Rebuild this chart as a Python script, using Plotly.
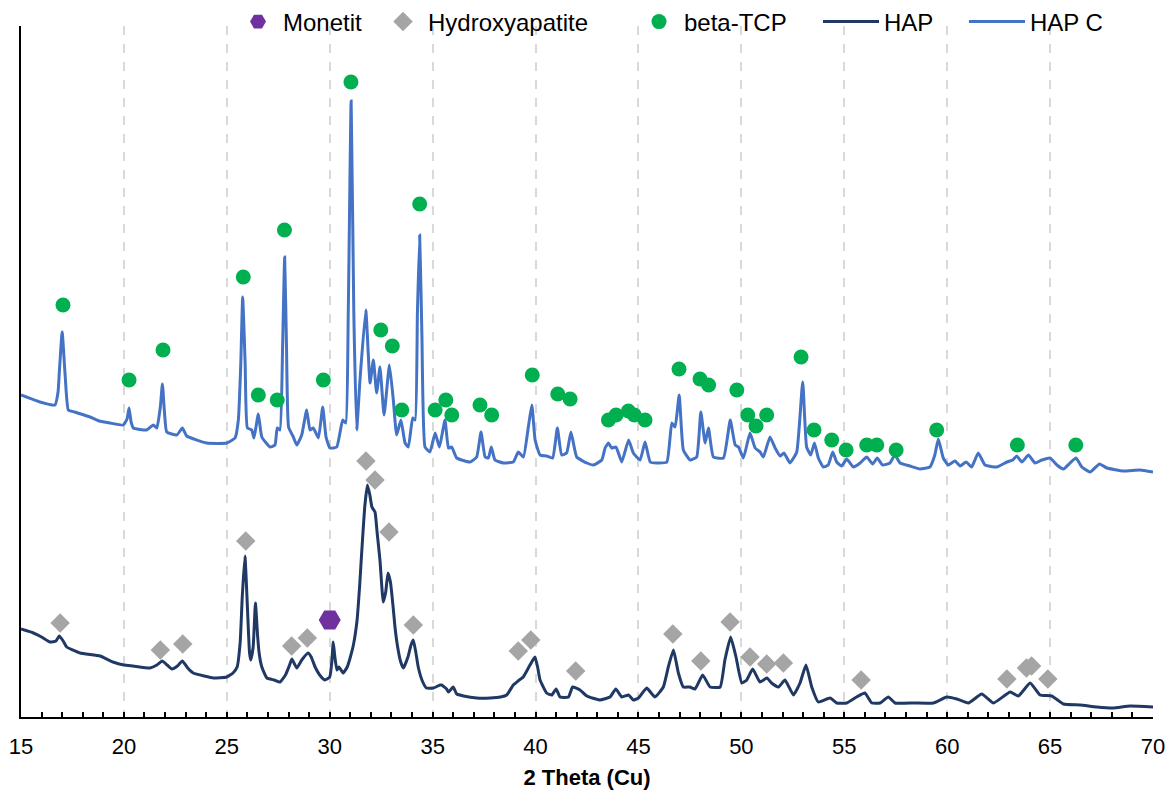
import plotly.graph_objects as go

# ---------------- data ----------------
hap_2theta = [15.0, 15.6, 16.0, 16.41, 16.7, 16.86, 17.05, 17.22, 17.87, 18.84, 19.47, 20.0, 20.45,
              21.27, 21.6, 21.86, 22.1, 22.33, 22.6, 22.84, 23.1, 23.37, 23.9, 24.35, 25.0, 25.3,
              25.5, 25.65, 25.75, 25.88, 26.0, 26.1, 26.16, 26.28, 26.39, 26.5, 26.57, 26.7, 26.95,
              27.3, 27.58, 27.85, 28.05, 28.16, 28.4, 28.64, 28.95, 29.1, 29.29, 29.55, 29.77, 30.0,
              30.1, 30.17, 30.25, 30.35, 30.45, 30.65, 30.85, 30.99, 31.15, 31.33, 31.45, 31.57,
              31.7, 31.83, 31.95, 32.05, 32.2, 32.3, 32.44, 32.6, 32.72, 32.83, 32.95, 33.08, 33.17,
              33.3, 33.45, 33.58, 33.8, 33.95, 34.06, 34.18, 34.3, 34.5, 34.7, 35.04, 35.36, 35.44,
              35.68, 35.77, 36.0, 36.17, 36.5, 37.14, 37.8, 38.3, 38.6, 38.92, 39.15, 39.4, 39.73,
              39.97, 40.1, 40.22, 40.54, 40.79, 41.0, 41.19, 41.6, 41.8, 42.16, 42.49, 43.13, 43.62,
              43.9, 44.19, 44.52, 44.75, 45.0, 45.4, 45.8, 46.21, 46.45, 46.7, 46.94, 47.18, 47.5,
              47.75, 48.12, 48.48, 48.97, 49.2, 49.48, 49.74, 50.02, 50.26, 50.55, 50.9, 51.24,
              51.47, 51.8, 52.12, 52.53, 52.85, 53.14, 53.42, 53.74, 54.31, 54.63, 55.12, 55.6,
              56.0, 56.34, 56.74, 57.14, 57.47, 58.36, 59.33, 59.98, 60.47, 61.03, 61.68, 62.25,
              63.06, 63.46, 64.03, 64.51, 65.08, 65.65, 66.46, 67.27, 68.06, 68.89, 70.0]
hap_intensity = [88, 84, 80, 75, 76, 81, 76, 70, 64, 61, 55, 52, 51,
                 49, 52, 56, 52, 48, 51, 56, 49, 44, 41, 39, 40, 44,
                 50, 75, 120, 161, 110, 65, 57, 70, 114, 80, 64, 50, 39,
                 37, 35, 42, 52, 58, 49, 57, 64, 60, 50, 41, 37, 40,
                 55, 75, 60, 47, 50, 44, 50, 59, 72, 97, 130, 170,
                 210, 232, 222, 210, 205, 185, 157, 115, 125, 144, 135, 110, 90,
                 70, 55, 49, 60, 72, 77, 65, 50, 36, 29, 29, 32, 32,
                 28, 25, 30, 23, 21, 19, 19, 20, 22, 32, 36, 40, 52,
                 60, 50, 37, 24, 22, 28, 20, 20, 30, 27, 21, 17, 20,
                 28, 20, 22, 17, 19, 29, 20, 30, 50, 67, 44, 30, 30,
                 28, 42, 30, 30, 57, 80, 60, 34, 37, 48, 35, 39,
                 34, 30, 37, 22, 34, 52, 30, 15, 19, 14, 14, 20,
                 24, 14, 14, 20, 14, 14, 14, 20, 18, 14, 23, 14,
                 25, 21, 34, 22, 21, 13, 12, 10, 9, 11, 10]

hapc_2theta = [15.0, 15.92, 16.65, 16.8, 16.86, 17.0, 17.15, 17.3, 17.6, 18.35, 18.8, 19.32, 19.97,
               20.15, 20.25, 20.35, 20.46, 21.1, 21.43, 21.6, 21.77, 21.87, 21.97, 22.08, 22.57,
               22.84, 23.05, 24.02, 25.0, 25.4, 25.56, 25.68, 25.77, 25.89, 26.0, 26.21, 26.32,
               26.53, 26.7, 27.1, 27.34, 27.45, 27.58, 27.71, 27.81, 27.9, 28.0, 28.23, 28.4,
               28.64, 28.88, 29.04, 29.2, 29.45, 29.66, 29.82, 30.01, 30.34, 30.63, 30.78, 30.9,
               31.04, 31.17, 31.31, 31.47, 31.75, 31.96, 32.12, 32.28, 32.44, 32.64, 32.9, 33.09,
               33.25, 33.46, 33.66, 33.82, 34.03, 34.15, 34.26, 34.37, 34.48, 34.63, 34.87, 35.12,
               35.33, 35.6, 35.77, 35.93, 36.17, 36.82, 37.14, 37.35, 37.55, 37.71, 37.85, 38.03,
               38.44, 38.92, 39.16, 39.41, 39.65, 39.82, 39.98, 40.22, 40.54, 40.83, 41.06, 41.27,
               41.51, 41.72, 42.0, 42.49, 42.81, 43.22, 43.38, 43.54, 43.7, 43.91, 44.19, 44.52,
               44.75, 45.08, 45.32, 45.57, 45.89, 46.38, 46.62, 46.78, 46.98, 47.18, 47.51, 47.83,
               48.03, 48.24, 48.4, 48.64, 49.13, 49.46, 49.7, 49.86, 50.1, 50.42, 50.67, 50.91,
               51.07, 51.39, 51.64, 51.88, 52.07, 52.36, 52.69, 52.98, 53.17, 53.37, 53.55, 53.74,
               53.98, 54.22, 54.44, 54.63, 54.87, 55.12, 55.44, 55.77, 56.09, 56.38, 56.6, 56.86,
               57.22, 57.46, 57.71, 58.19, 58.68, 59.16, 59.4, 59.57, 59.81, 60.05, 60.38, 60.63,
               60.92, 61.19, 61.51, 61.84, 62.41, 62.9, 63.19, 63.38, 63.63, 63.95, 64.27, 64.6,
               65.0, 65.33, 65.65, 65.97, 66.26, 66.54, 66.95, 67.4, 67.76, 68.57, 69.37, 70.0]
hapc_intensity = [322, 315, 312, 325, 344, 385, 340, 307, 305, 300, 296, 294, 292,
                  298, 309, 295, 289, 287, 292, 289, 310, 333, 305, 285, 282,
                  289, 281, 274, 274, 279, 297, 354, 420, 354, 289, 287, 279,
                  303, 280, 270, 272, 289, 287, 370, 460, 370, 290, 280, 272,
                  282, 307, 287, 289, 279, 310, 280, 269, 270, 297, 294, 404,
                  616, 404, 287, 337, 407, 334, 357, 324, 350, 302, 352, 317,
                  282, 297, 274, 270, 299, 297, 404, 482, 380, 270, 265, 284,
                  270, 297, 269, 270, 259, 255, 260, 285, 260, 259, 270, 257,
                  254, 255, 265, 260, 290, 312, 277, 262, 261, 259, 289, 262,
                  264, 285, 260, 254, 252, 257, 269, 274, 269, 270, 255, 277,
                  264, 257, 275, 255, 254, 255, 294, 290, 322, 267, 257, 260,
                  305, 274, 289, 260, 259, 297, 272, 270, 259, 284, 269, 265,
                  260, 280, 269, 261, 264, 254, 265, 335, 270, 262, 274, 259,
                  250, 252, 265, 255, 251, 258, 250, 254, 260, 253, 259, 252,
                  254, 262, 254, 251, 248, 250, 262, 278, 259, 252, 256, 251,
                  255, 250, 264, 252, 250, 255, 257, 261, 255, 262, 254, 257,
                  259, 252, 248, 254, 259, 250, 245, 253, 249, 246, 247, 245]

monetit_x = [30.0]
monetit_y = [97]

hydroxy_x = [16.9, 21.77, 22.86, 25.92, 28.15, 28.91, 31.76, 32.2, 32.88, 34.06, 39.16, 39.77,
             41.95, 46.67, 48.03, 49.45, 50.42, 51.23, 52.04, 55.82, 62.9, 63.85, 64.1, 64.89]
hydroxy_y = [94, 67, 73, 176, 71, 79, 256, 237, 185, 92, 66, 77,
             46, 83, 56, 95, 60, 53, 54, 37, 38, 49, 51, 38]

tcp_x = [17.04, 20.25, 21.9, 25.8, 26.53, 27.45, 27.8, 29.69, 31.03, 32.48, 33.04, 33.5, 34.37,
         35.12, 35.64, 35.93, 37.3, 37.87, 39.84, 41.08, 41.68, 43.54, 43.91, 44.51, 44.8, 45.32,
         46.97, 47.99, 48.41, 49.78, 50.31, 50.71, 51.23, 52.9, 53.53, 54.39, 55.09, 56.09, 56.58,
         57.52, 59.49, 63.41, 66.25]
tcp_y = [412, 337, 367, 440, 322, 317, 487, 337, 635, 387, 371, 307, 513,
         307, 317, 302, 312, 302, 342, 323, 318, 297, 302, 306, 302, 297,
         348, 338, 332, 327, 302, 291, 302, 360, 287, 277, 267, 272, 272,
         267, 287, 272, 272]

x_ticks = [15, 20, 25, 30, 35, 40, 45, 50, 55, 60, 65, 70]

# ---------------- figure ----------------
W, H = 1173, 794
FONT = "Liberation Sans, Arial, sans-serif"

fig = go.Figure()
fig.add_trace(go.Scatter(x=hap_2theta, y=hap_intensity, mode="lines", name="HAP",
                         line=dict(color="#203864", width=3, shape="spline", smoothing=0.4),
                         legend="legend4"))
fig.add_trace(go.Scatter(x=hapc_2theta, y=hapc_intensity, mode="lines", name="HAP C",
                         line=dict(color="#4472C4", width=3, shape="spline", smoothing=0.4),
                         legend="legend5"))
fig.add_trace(go.Scatter(x=monetit_x, y=monetit_y, mode="markers", name="Monetit",
                         marker=dict(symbol="hexagon2", size=22, color="#7030A0"),
                         legend="legend"))
fig.add_trace(go.Scatter(x=hydroxy_x, y=hydroxy_y, mode="markers", name="Hydroxyapatite",
                         marker=dict(symbol="diamond", size=15, color="#A5A5A5"),
                         legend="legend2"))
fig.add_trace(go.Scatter(x=tcp_x, y=tcp_y, mode="markers", name="beta-TCP",
                         marker=dict(symbol="circle", size=15, color="#00B050"),
                         legend="legend3"))


def leg(px_left, itemwidth=30):
    return dict(x=px_left / W, xref="container", xanchor="left",
                y=1 - 22 / H, yref="container", yanchor="middle",
                orientation="h", font=dict(family=FONT, size=24, color="#000000"),
                bgcolor="rgba(0,0,0,0)", borderwidth=0, itemwidth=itemwidth,
                tracegroupgap=0)


fig.update_layout(
    width=W, height=H,
    margin=dict(l=21, r=20, t=26, b=77, autoexpand=False),
    paper_bgcolor="white", plot_bgcolor="white",
    font=dict(family=FONT, size=22, color="#000000"),
    showlegend=True,
    legend=leg(233, 40),
    legend2=leg(378, 40),
    legend3=leg(634, 40),
    legend4=leg(818, 56),
    legend5=leg(964, 56),
    xaxis=dict(range=[15, 70], tickvals=x_ticks, ticktext=[str(v) for v in x_ticks],
               ticks="inside", ticklen=5, tickwidth=1.5, tickcolor="#000000",
               minor=dict(dtick=1, ticks="inside", ticklen=5, tickwidth=1.5,
                          tickcolor="#000000", showgrid=False),
               showline=True, linecolor="#000000", linewidth=2,
               showgrid=True, gridcolor="#D9D9D9", griddash="dash", gridwidth=1.5,
               zeroline=False, tickfont=dict(size=22), automargin=False,
               ticklabelstandoff=9,
               title=dict(text="<b>2 Theta (Cu)</b>", font=dict(size=22), standoff=11)),
    yaxis=dict(range=[0, 691], showticklabels=False, ticks="", showgrid=False,
               showline=True, linecolor="#000000", linewidth=2, zeroline=False,
               automargin=False),
)

fig.write_html("out.html", config={"displayModeBar": False},
               post_script="document.body.style.margin='0';")
